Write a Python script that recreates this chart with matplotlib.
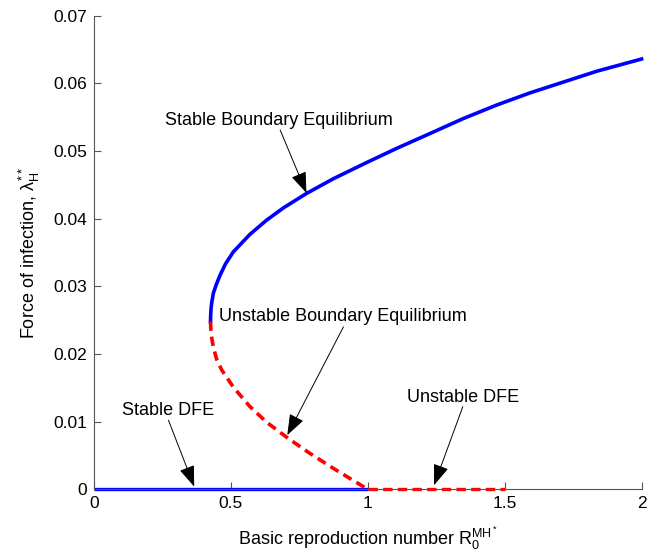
import matplotlib
matplotlib.use('Agg')
import matplotlib.pyplot as plt

plt.rcParams['font.family'] = ['Liberation Sans', 'DejaVu Sans']
plt.rcParams['mathtext.fontset'] = 'custom'
plt.rcParams['mathtext.rm'] = 'Liberation Sans'
plt.rcParams['mathtext.it'] = 'Liberation Sans'
plt.rcParams['mathtext.bf'] = 'Liberation Sans:bold'

# upper (stable) branch of the boundary equilibrium
r_upper = [0.4255, 0.4262, 0.4275, 0.430, 0.436, 0.447, 0.460, 0.480, 0.509,
           0.570, 0.631, 0.692, 0.775, 0.874, 0.996, 1.106, 1.228, 1.349,
           1.471, 1.593, 1.715, 1.837, 2.0]
lam_upper = [0.0248, 0.0258, 0.0267, 0.0276, 0.0290, 0.0303, 0.0316, 0.0333,
             0.0351, 0.0377, 0.0398, 0.0416, 0.0437, 0.0459, 0.0483, 0.0504,
             0.0526, 0.0548, 0.0568, 0.0586, 0.0602, 0.0618, 0.0636]

# lower (unstable) branch
r_lower = [0.4255, 0.4265, 0.429, 0.436, 0.448, 0.467, 0.509, 0.570, 0.631,
           0.710, 0.789, 0.874, 0.947, 1.0]
lam_lower = [0.0248, 0.0238, 0.0226, 0.0210, 0.0192, 0.0176, 0.0151, 0.0122,
             0.0099, 0.0075, 0.0053, 0.0031, 0.0013, 0.0]

# disease free equilibrium
r_dfe_stable = [0.0, 1.0]
r_dfe_unstable = [1.0, 1.5]
lam_dfe = [0.0, 0.0]

labels = ['Stable Boundary Equilibrium', 'Unstable Boundary Equilibrium',
          'Stable DFE', 'Unstable DFE']
label_xy = [(0.676, 0.0538), (0.908, 0.0249), (0.2716, 0.0110), (1.348, 0.0129)]
arrow_from = [(0.680, 0.0531), (0.911, 0.0240), (0.272, 0.0102), (1.347, 0.0122)]
arrow_to = [(0.776, 0.0438), (0.706, 0.0080), (0.366, 0.0004), (1.242, 0.0006)]

xticks = [0, 0.5, 1, 1.5, 2]
xticklabels = ['0', '0.5', '1', '1.5', '2']
yticks = [0, 0.01, 0.02, 0.03, 0.04, 0.05, 0.06, 0.07]
yticklabels = ['0', '0.01', '0.02', '0.03', '0.04', '0.05', '0.06', '0.07']

fig = plt.figure(figsize=(6.56, 5.55), dpi=100)
ax = fig.add_axes([0.1433, 0.1184, 0.8347, 0.8533])

ax.plot(r_dfe_stable, lam_dfe, color='#0000ff', lw=2.4, clip_on=False,
        solid_capstyle='butt')
ax.plot(r_dfe_unstable, lam_dfe, color='#ff0000', lw=2.4, clip_on=False,
        dashes=(2.8, 1.6))
ax.plot(r_upper, lam_upper, color='#0000ff', lw=2.6, clip_on=False,
        solid_joinstyle='round')
ax.plot(r_lower, lam_lower, color='#ff0000', lw=2.6, clip_on=False,
        dashes=(2.6, 1.6), dash_joinstyle='round')

for txt, pos, p0, p1 in zip(labels, label_xy, arrow_from, arrow_to):
    ax.text(pos[0], pos[1], txt, ha='center', va='baseline', fontsize=13)
    ax.annotate('', xy=p1, xytext=p0,
                arrowprops=dict(arrowstyle='-|>,head_length=0.65,head_width=0.24',
                                color='black', lw=0.7, mutation_scale=20,
                                shrinkA=0, shrinkB=0))

ax.set_xlim(0, 2)
ax.set_ylim(0, 0.07)
ax.set_xticks(xticks)
ax.set_xticklabels(xticklabels)
ax.set_yticks(yticks)
ax.set_yticklabels(yticklabels)

for side in ['top', 'right']:
    ax.spines[side].set_visible(False)
for side in ['left', 'bottom']:
    ax.spines[side].set_color('#555555')
    ax.spines[side].set_linewidth(0.8)
ax.tick_params(direction='in', length=5, width=0.8, color='#555555',
               labelsize=12.5, labelcolor='black', pad=5)

ax.set_xlabel(r'Basic reproduction number R$_0^{\mathrm{MH}^*}$', fontsize=13,
              labelpad=10)
ax.set_ylabel(r'Force of infection, $\lambda_\mathrm{H}^{**}$', fontsize=13,
              labelpad=8)

plt.savefig('out.png', dpi=100)
